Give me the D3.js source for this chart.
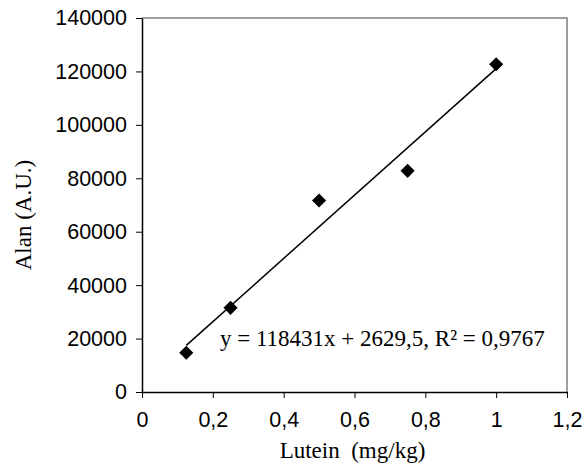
<!DOCTYPE html>
<html>
<head>
<meta charset="utf-8">
<script src="https://cdn.jsdelivr.net/npm/d3@7"></script>
<style>
  body { margin: 0; background: #fff; }
  .tick text { font-family: "Liberation Sans", Arial, sans-serif; font-size: 21.5px; fill: #000; }
  .title { font-family: "Liberation Serif", "Times New Roman", serif; font-size: 23px; fill: #000; white-space: pre; }
</style>
</head>
<body>
<div id="chart"></div>
<script>
// Data
const lutein = [0.125, 0.25, 0.5, 0.75, 1.0];
const alan = [14700, 31500, 71700, 82800, 122700];
const xTicks = [0, 0.2, 0.4, 0.6, 0.8, 1, 1.2];
const yTicks = [0, 20000, 40000, 60000, 80000, 100000, 120000, 140000];
const slope = 118431, intercept = 2629.5;
const equation = "y = 118431x + 2629,5, R² = 0,9767";

const margin = { top: 18, right: 21, bottom: 77, left: 142 },
      width = 588 - margin.left - margin.right,
      height = 469 - margin.top - margin.bottom;

const svg = d3.select("#chart")
    .append("svg")
    .attr("width", 588)
    .attr("height", 469)
    .append("g")
    .attr("transform", `translate(${margin.left},${margin.top})`);

const x = d3.scaleLinear().domain([0, 1.2]).range([0, width]);
const y = d3.scaleLinear().domain([0, 140000]).range([height, 0]);

const fmt = d => String(d).replace(".", ",");

// Frame (grey top & right)
svg.append("path")
    .attr("d", `M0,0H${width}V${height}`)
    .attr("fill", "none")
    .attr("stroke", "#808080")
    .attr("stroke-width", 1.5);

// X axis
const xAxis = svg.append("g")
    .attr("transform", `translate(0,${height})`)
    .call(d3.axisBottom(x).tickValues(xTicks).tickFormat(fmt).tickSize(6).tickSizeOuter(0).tickPadding(14));
// Y axis
const yAxis = svg.append("g")
    .call(d3.axisLeft(y).tickValues(yTicks).tickFormat(d => d).tickSize(6).tickSizeOuter(0).tickPadding(9));

[xAxis, yAxis].forEach(a => {
    a.select(".domain").attr("stroke", "#000").attr("stroke-width", 1.5);
    a.selectAll(".tick line").attr("stroke", "#000");
});

// Trend line
const x0 = d3.min(lutein), x1 = d3.max(lutein);
svg.append("line")
    .attr("x1", x(x0)).attr("y1", y(slope * x0 + intercept))
    .attr("x2", x(x1)).attr("y2", y(slope * x1 + intercept))
    .attr("stroke", "#000")
    .attr("stroke-width", 1.5);

// Points
svg.selectAll(".pt")
    .data(lutein.map((v, i) => [v, alan[i]]))
    .enter()
    .append("path")
    .attr("class", "pt")
    .attr("d", d3.symbol(d3.symbolSquare, 100))
    .attr("transform", d => `translate(${x(d[0])},${y(d[1])}) rotate(45)`)
    .attr("fill", "#000");

// Equation
svg.append("text")
    .attr("class", "title")
    .attr("x", 78)
    .attr("y", 328)
    .text(equation);

// Axis titles
svg.append("text")
    .attr("class", "title")
    .attr("x", width / 2 - 2)
    .attr("y", height + 66)
    .attr("text-anchor", "middle")
    .text("Lutein  (mg/kg)");

svg.append("text")
    .attr("class", "title")
    .attr("transform", "rotate(-90)")
    .attr("x", -197)
    .attr("y", -111)
    .attr("text-anchor", "middle")
    .text("Alan (A.U.)");
</script>
</body>
</html>
